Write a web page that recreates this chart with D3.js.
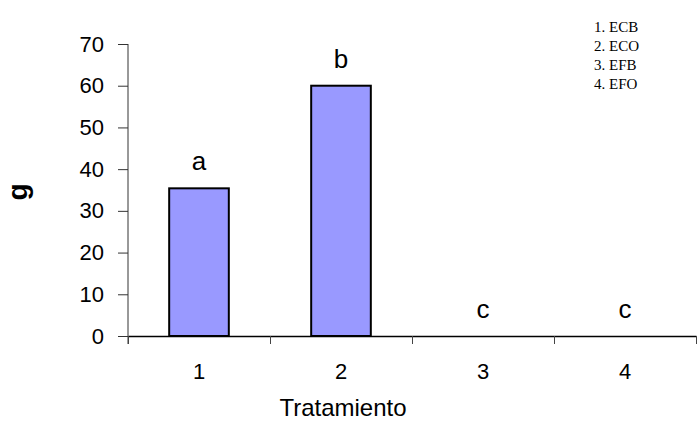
<!DOCTYPE html>
<html>
<head>
<meta charset="utf-8">
<script src="https://cdn.jsdelivr.net/npm/d3@7"></script>
<style>
  html, body { margin: 0; padding: 0; background: #fff; }
  svg { display: block; }
</style>
</head>
<body>
<div id="chart"></div>
<script>
// data
const categories = ['1', '2', '3', '4'];
const values = [35.4, 60, 0, 0];
const letters = ['a', 'b', 'c', 'c'];
const yTicks = [0, 10, 20, 30, 40, 50, 60, 70];
const legendItems = ['1. ECB', '2. ECO', '3. EFB', '4. EFO'];

const W = 699, H = 421;
const margin = { top: 44, right: 3, bottom: 85, left: 128 };
const innerW = W - margin.left - margin.right;
const innerH = H - margin.top - margin.bottom;

const svg = d3.select('#chart')
    .append('svg')
    .attr('width', W)
    .attr('height', H);

const chart = svg.append('g')
    .attr('transform', `translate(${margin.left},${margin.top})`);

const xScale = d3.scaleBand()
    .domain(categories)
    .range([0, innerW])
    .paddingInner(0.58)
    .paddingOuter(0.29);

// category boundaries for the tick marks
const xEdge = d3.scaleLinear()
    .domain([0, categories.length])
    .range([0, innerW]);

const yScale = d3.scaleLinear()
    .domain([0, 70])
    .range([innerH, 0]);

const font = 'Arial, "Liberation Sans", sans-serif';

// y axis
chart.append('g')
    .call(d3.axisLeft(yScale).tickValues(yTicks).tickSize(10).tickPadding(14).tickSizeOuter(0))
    .call(ax => {
        ax.select('.domain').remove();
        ax.selectAll('line').attr('stroke', '#333').attr('stroke-width', 1);
        ax.selectAll('text')
            .attr('fill', '#000')
            .attr('font-family', font)
            .attr('font-size', '22px');
    });

chart.append('line')
    .attr('x1', 0).attr('x2', 0)
    .attr('y1', 0).attr('y2', innerH + 8)
    .attr('stroke', '#333')
    .attr('stroke-width', 1);

// bars
chart.selectAll('.bar')
    .data(values)
    .join('rect')
        .attr('class', 'bar')
        .attr('x', (d, i) => xScale(categories[i]))
        .attr('y', d => yScale(d))
        .attr('width', xScale.bandwidth())
        .attr('height', d => innerH - yScale(d))
        .attr('fill', '#9999ff')
        .attr('stroke', '#000')
        .attr('stroke-width', 2);

// x axis
chart.append('g')
    .attr('transform', `translate(0,${innerH})`)
    .call(d3.axisBottom(xEdge).ticks(categories.length).tickSize(8).tickFormat('').tickSizeOuter(0))
    .call(ax => {
        ax.select('.domain').attr('stroke', '#000').attr('stroke-width', 1.5);
        ax.selectAll('line').attr('stroke', '#444').attr('stroke-width', 1);
    });

chart.append('g')
    .attr('transform', `translate(0,${innerH})`)
    .call(d3.axisBottom(xScale).tickSize(0).tickPadding(27))
    .call(ax => {
        ax.select('.domain').remove();
        ax.selectAll('text')
            .attr('fill', '#000')
            .attr('font-family', font)
            .attr('font-size', '22px');
    });

// significance letters
chart.selectAll('.letter')
    .data(values)
    .join('text')
        .attr('class', 'letter')
        .attr('x', (d, i) => xScale(categories[i]) + xScale.bandwidth() / 2)
        .attr('y', d => yScale(d) - 18)
        .attr('text-anchor', 'middle')
        .attr('font-family', font)
        .attr('font-size', '26px')
        .attr('fill', '#000')
        .text((d, i) => letters[i]);

// axis titles
chart.append('text')
    .attr('x', 343 - margin.left)
    .attr('y', innerH + 80)
    .attr('text-anchor', 'middle')
    .attr('font-family', font)
    .attr('font-size', '24px')
    .attr('fill', '#000')
    .text('Tratamiento');

chart.append('text')
    .attr('transform', 'rotate(-90)')
    .attr('x', -innerH / 2 - 2)
    .attr('y', -101)
    .attr('text-anchor', 'middle')
    .attr('font-family', font)
    .attr('font-size', '28px')
    .attr('font-weight', 'bold')
    .attr('fill', '#000')
    .text('g');

// legend text box
svg.append('g')
    .attr('transform', 'translate(594,0)')
    .selectAll('text')
    .data(legendItems)
    .join('text')
        .attr('x', 0)
        .attr('y', (d, i) => 32 + i * 19)
        .attr('font-family', '"Times New Roman", "Liberation Serif", serif')
        .attr('font-size', '15px')
        .attr('fill', '#000')
        .text(d => d);
</script>
</body>
</html>
